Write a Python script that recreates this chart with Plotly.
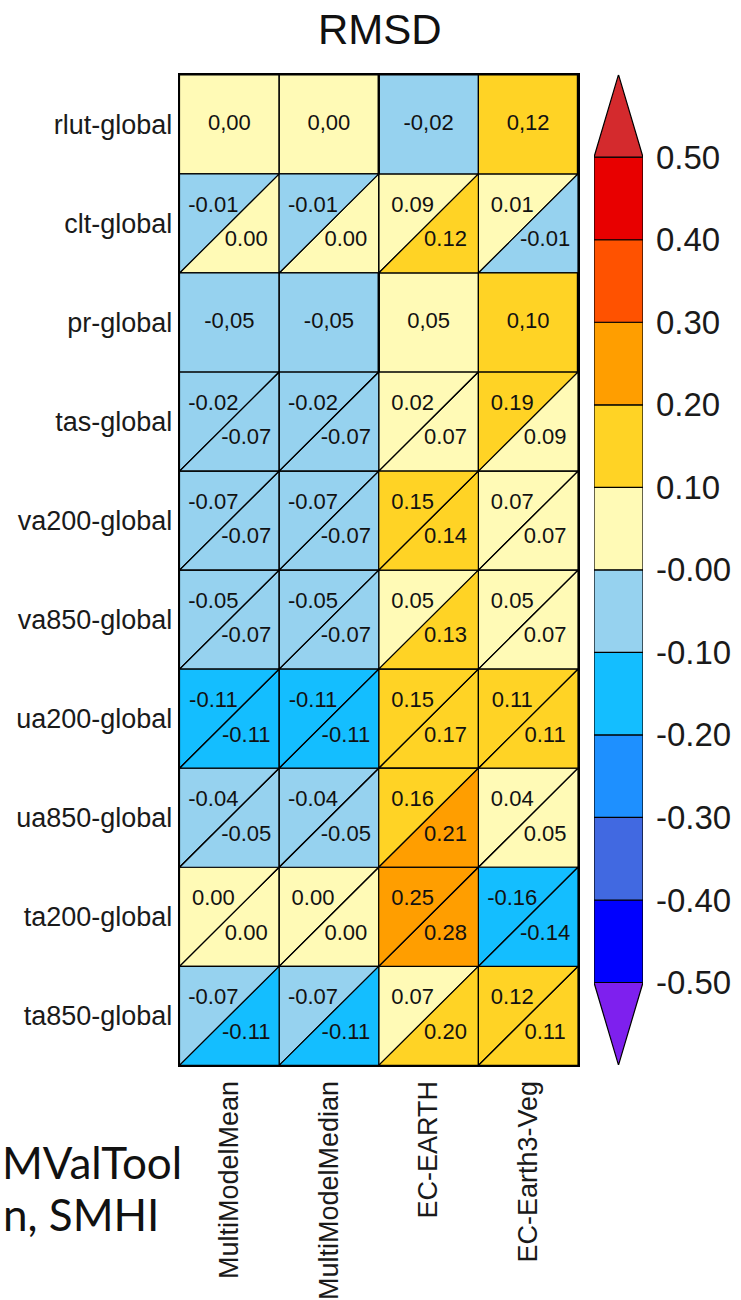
import numpy as np
import plotly.graph_objects as go

# ---- data -------------------------------------------------------------
models = ["MultiModelMean", "MultiModelMedian", "EC-EARTH", "EC-Earth3-Veg"]
variables = ["rlut-global", "clt-global", "pr-global", "tas-global", "va200-global",
             "va850-global", "ua200-global", "ua850-global", "ta200-global", "ta850-global"]

# relative RMSD vs. first reference (upper-left triangle / whole cell)
rmsd_ref1 = [
    [0.00, 0.00, -0.02, 0.12],
    [-0.01, -0.01, 0.09, 0.01],
    [-0.05, -0.05, 0.05, 0.10],
    [-0.02, -0.02, 0.02, 0.19],
    [-0.07, -0.07, 0.15, 0.07],
    [-0.05, -0.05, 0.05, 0.05],
    [-0.11, -0.11, 0.15, 0.11],
    [-0.04, -0.04, 0.16, 0.04],
    [0.00, 0.00, 0.25, -0.16],
    [-0.07, -0.07, 0.07, 0.12],
]
# relative RMSD vs. second reference (lower-right triangle); None = no second reference
rmsd_ref2 = [
    [None, None, None, None],
    [0.00, 0.00, 0.12, -0.01],
    [None, None, None, None],
    [-0.07, -0.07, 0.07, 0.09],
    [-0.07, -0.07, 0.14, 0.07],
    [-0.07, -0.07, 0.13, 0.07],
    [-0.11, -0.11, 0.17, 0.11],
    [-0.05, -0.05, 0.21, 0.05],
    [0.00, 0.00, 0.28, -0.14],
    [-0.11, -0.11, 0.199, 0.11],
]

levels = [-0.5, -0.4, -0.3, -0.2, -0.1, 0.0, 0.1, 0.2, 0.3, 0.4, 0.5]
level_labels = ["-0.50", "-0.40", "-0.30", "-0.20", "-0.10", "-0.00",
                "0.10", "0.20", "0.30", "0.40", "0.50"]
bin_colors = ["#7E20EE", "#0000FF", "#4169E1", "#1E90FF", "#14BEFF", "#96D2EF",
              "#FFFAB6", "#FFD325", "#FF9E00", "#FF5200", "#E80000", "#D42A2D"]

FONT = "Liberation Sans"


def color_for(v):
    return bin_colors[int(np.digitize(v + 1e-9, levels))]


# ---- build cell polygons grouped by colour -----------------------------
polys = {}
tx, ty, tt = [], [], []
n_rows = len(variables)


def add_poly(col, xs, ys):
    px, py = polys.setdefault(col, ([], []))
    px.extend(xs + [xs[0], None])
    py.extend(ys + [ys[0], None])


for r, var in enumerate(variables):
    yb, yt = n_rows - 1 - r, n_rows - r
    for c, _ in enumerate(models):
        v1, v2 = rmsd_ref1[r][c], rmsd_ref2[r][c]
        if v2 is None:
            add_poly(color_for(v1), [c, c + 1, c + 1, c], [yb, yb, yt, yt])
            tx.append(c + 0.5); ty.append(yb + 0.5)
            tt.append(f"{v1:.2f}".replace(".", ","))
        else:
            add_poly(color_for(v1), [c, c + 1, c], [yb, yt, yt])
            add_poly(color_for(v2), [c, c + 1, c + 1], [yb, yb, yt])
            tx.append(c + 0.34); ty.append(yt - 0.33); tt.append(f"{v1:.2f}")
            tx.append(c + 0.67); ty.append(yt - 0.675); tt.append(f"{v2:.2f}")

fig = go.Figure()
for col, (px, py) in polys.items():
    fig.add_trace(go.Scatter(x=px, y=py, mode="lines", fill="toself", fillcolor=col,
                             line=dict(color="black", width=1.2),
                             hoverinfo="skip", showlegend=False))

# heavier frame around the single-reference rows of the model columns
sx, sy = [], []
for r, _ in enumerate(variables):
    if rmsd_ref2[r][0] is None:
        yb, yt = n_rows - 1 - r, n_rows - r
        sx += [2, 2, None, 4, 4, None]
        sy += [yb, yt, None, yb, yt, None]
fig.add_trace(go.Scatter(x=sx, y=sy, mode="lines", line=dict(color="black", width=2.4),
                         hoverinfo="skip", showlegend=False))

fig.add_trace(go.Scatter(x=tx, y=ty, mode="text", text=tt,
                         textfont=dict(family=FONT, size=22, color="#111111"),
                         hoverinfo="skip", showlegend=False))

# ---- colour bar with end triangles -------------------------------------
step = levels[1] - levels[0]
for i, col in enumerate(bin_colors):
    if i == 0:
        xs, ys = [0, 1, 0.5], [levels[0], levels[0], levels[0] - step]
    elif i == len(bin_colors) - 1:
        xs, ys = [0, 1, 0.5], [levels[-1], levels[-1], levels[-1] + step]
    else:
        lo, hi = levels[i - 1], levels[i]
        xs, ys = [0, 1, 1, 0], [lo, lo, hi, hi]
    fig.add_trace(go.Scatter(x=xs + [xs[0]], y=ys + [ys[0]], mode="lines", fill="toself",
                             fillcolor=col, line=dict(color="black", width=1.2),
                             xaxis="x2", yaxis="y2", hoverinfo="skip", showlegend=False))

W, H = 741, 1300
fig.update_layout(
    width=W, height=H,
    margin=dict(l=0, r=0, t=0, b=0),
    paper_bgcolor="white", plot_bgcolor="white",
    font=dict(family=FONT, color="#1a1a1a"),
    xaxis=dict(domain=[179.5 / W, 578 / W], range=[0, 4],
               tickvals=[c + 0.5 for c in range(len(models))], ticktext=models,
               tickangle=-90, tickfont=dict(family=FONT, size=27, color="#1a1a1a"),
               ticks="", ticklabelstandoff=3,
               showgrid=False, zeroline=False, showline=True, mirror=True,
               linecolor="black", linewidth=1.5, fixedrange=True),
    yaxis=dict(domain=[1 - 1067 / H, 1 - 75 / H], range=[0, n_rows],
               tickvals=[n_rows - 0.5 - r for r in range(n_rows)], ticktext=variables,
               tickfont=dict(family=FONT, size=27, color="#1a1a1a"),
               ticks="", ticklabelstandoff=0,
               showgrid=False, zeroline=False, showline=True, mirror=True,
               linecolor="black", linewidth=1.5, fixedrange=True),
    xaxis2=dict(domain=[594 / W, 643 / W], range=[0, 1], anchor="y2",
                visible=False, fixedrange=True),
    yaxis2=dict(domain=[1 - 1066.7 / H, 1 - 74.8 / H], range=[-0.6, 0.6], anchor="x2",
                side="right", tickvals=levels, ticktext=level_labels,
                tickfont=dict(family=FONT, size=33, color="#1a1a1a"),
                ticks="", ticklabelstandoff=12,
                showgrid=False, zeroline=False, showline=False, fixedrange=True),
    annotations=[
        dict(text="RMSD", x=380 / W, y=1 - 30 / H, xref="paper", yref="paper",
             xanchor="center", yanchor="middle", showarrow=False,
             font=dict(family=FONT, size=42, color="#111111")),
        dict(text="MValTool", x=0, y=1 - 1164 / H, xref="paper", yref="paper",
             xanchor="left", yanchor="middle", showarrow=False,
             font=dict(family="Lato", size=44, color="#111111")),
        dict(text="n, SMHI", x=1 / W, y=1 - 1216 / H, xref="paper", yref="paper",
             xanchor="left", yanchor="middle", showarrow=False,
             font=dict(family="Lato", size=44, color="#111111")),
    ],
)

fig.write_html("out.html")
